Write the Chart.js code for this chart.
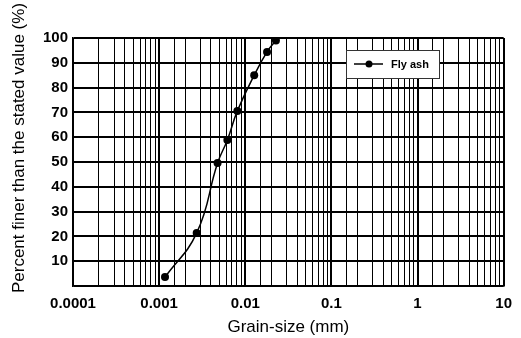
<!DOCTYPE html>
<html>
<head>
<meta charset="utf-8">
<script src="https://cdn.jsdelivr.net/npm/chart.js@4/dist/chart.umd.min.js"></script>
<style>
  html, body { margin: 0; padding: 0; background: #fff; }
  #wrap { width: 521px; height: 338px; position: relative; }
</style>
</head>
<body>
<div id="wrap"><canvas id="gradingChart"></canvas></div>
<script>
// Particle size distribution of fly ash
const grainSize = [0.00117, 0.00273, 0.00477, 0.0062, 0.0081, 0.0127, 0.0179, 0.0227];
const percentFiner = [3.6, 21.4, 49.6, 58.9, 70.6, 85, 94.4, 99];
const xTickLabels = ["0.0001", "0.001", "0.01", "0.1", "1", "10"];
const yTickLabels = ["10", "20", "30", "40", "50", "60", "70", "80", "90", "100"];
const seriesName = "Fly ash";
const yTitle = "Percent finer than the stated value (%)";

const FONT = "'Liberation Sans', Arial, sans-serif";

function isDecade(v) {
    const l = Math.log10(v);
    return Math.abs(l - Math.round(l)) < 1e-6;
}

// legend box inside the plot (top right) + the y title, which sits a bit above centre
const extras = {
    id: "extras",
    afterDraw(chart) {
        const ctx = chart.ctx;
        const x = 346, y = 50, w = 93, h = 28;
        ctx.save();
        ctx.fillStyle = "#fff";
        ctx.fillRect(x, y, w, h);
        ctx.strokeStyle = "#333";
        ctx.lineWidth = 1;
        ctx.strokeRect(x + 0.5, y + 0.5, w, h);
        ctx.strokeStyle = "#000";
        ctx.lineWidth = 1.5;
        ctx.beginPath();
        ctx.moveTo(354, 64);
        ctx.lineTo(383, 64);
        ctx.stroke();
        ctx.fillStyle = "#000";
        ctx.beginPath();
        ctx.arc(369, 64, 3.5, 0, Math.PI * 2);
        ctx.fill();
        ctx.font = "bold 11px " + FONT;
        ctx.textBaseline = "middle";
        ctx.fillText(seriesName, 391, 64.5);

        ctx.translate(19, 148);
        ctx.rotate(-Math.PI / 2);
        ctx.font = "17px " + FONT;
        ctx.textAlign = "center";
        ctx.fillText(yTitle, 0, 0);
        ctx.restore();
    }
};

new Chart(document.getElementById("gradingChart"), {
    type: "line",
    data: {
        datasets: [{
            label: seriesName,
            data: grainSize.map((g, i) => ({ x: g, y: percentFiner[i] })),
            borderColor: "#000",
            backgroundColor: "#000",
            borderWidth: 1.5,
            pointRadius: 4,
            pointBackgroundColor: "#000",
            pointBorderWidth: 0,
            tension: 0.45,
            fill: false
        }]
    },
    options: {
        responsive: true,
        maintainAspectRatio: false,
        animation: false,
        layout: { padding: { top: 38, right: 13, left: 0, bottom: 0 } },
        plugins: {
            legend: { display: false },
            tooltip: { enabled: false }
        },
        scales: {
            x: {
                type: "logarithmic",
                min: 0.0001,
                max: 10,
                afterFit: s => { s.height = 52; },
                ticks: {
                    autoSkip: false,
                    maxRotation: 0,
                    padding: 9,
                    font: { family: FONT, size: 15, weight: "bold" },
                    color: "#000",
                    callback: function(value) {
                        if (!isDecade(value)) return "";
                        const idx = Math.round(Math.log10(value)) + 4;
                        return xTickLabels[idx] || "";
                    }
                },
                grid: {
                    color: "#000",
                    lineWidth: ctx => (ctx.tick && isDecade(ctx.tick.value)) ? 2 : 1,
                    drawTicks: false
                },
                border: { display: true, color: "#000", width: 1.5 },
                title: {
                    display: true,
                    text: "Grain-size (mm)",
                    font: { family: FONT, size: 17 },
                    color: "#000",
                    padding: { top: 5, bottom: 0 }
                }
            },
            y: {
                min: 0,
                max: 100,
                afterFit: s => { s.width = 73; },
                ticks: {
                    stepSize: 10,
                    padding: 5,
                    font: { family: FONT, size: 15, weight: "bold" },
                    color: "#000",
                    callback: function(value) {
                        const idx = Math.round(value / 10) - 1;
                        return idx >= 0 ? yTickLabels[idx] : "";
                    }
                },
                grid: {
                    color: "#000",
                    lineWidth: 2,
                    drawTicks: false
                },
                border: { display: true, color: "#000", width: 1.5 },
                title: { display: false }
            }
        }
    },
    plugins: [extras]
});
</script>
</body>
</html>
